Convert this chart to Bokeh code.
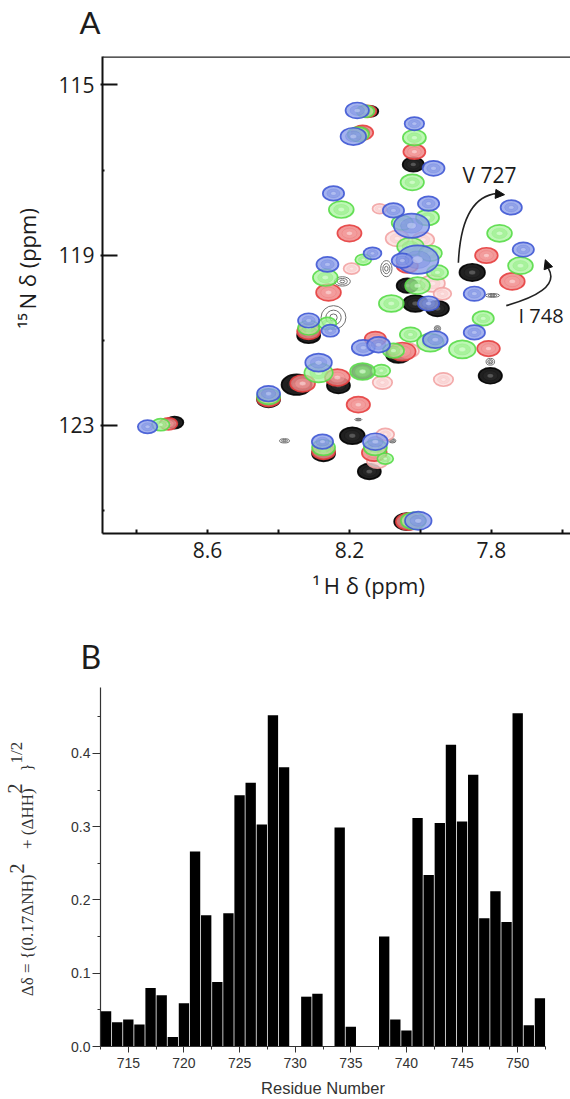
from bokeh.plotting import figure
from bokeh.layouts import column
from bokeh.models import Range1d, FixedTicker, Label, Span, Arrow, NormalHead, Title
from bokeh.embed import file_html
from bokeh.resources import INLINE

# ---------- Panel A: HSQC peaks (1H ppm, 15N ppm, 1H peak width ppm) ----------
BLUE_H = [8.178,8.189,8.017,7.963,8.245,8.076,7.977,8.025,8.008,8.051,8.135,8.262,7.744,7.710,7.848,7.848,7.977,7.958,8.161,8.118,8.127,8.006,8.769,8.428,8.287,8.315,8.276,8.254]
BLUE_N = [115.60,116.21,115.91,116.96,117.55,117.95,117.79,118.31,119.11,119.13,118.96,119.22,117.88,118.87,119.91,120.82,120.14,120.99,121.18,121.11,123.39,125.25,123.04,122.26,121.53,120.54,123.39,120.78]
BLUE_W = [.066,.072,.055,.062,.06,.06,.06,.10,.118,.06,.05,.062,.06,.06,.06,.06,.06,.07,.065,.065,.07,.075,.055,.065,.075,.06,.06,.05]

GREEN_H = [8.155,8.175,8.017,8.023,8.223,7.980,8.051,8.028,7.972,7.952,8.268,8.161,7.777,7.718,7.823,8.082,8.028,7.972,7.882,8.110,8.076,8.163,8.127,8.099,8.020,8.732,8.428,8.287,8.315,8.273,8.262,8.008]
GREEN_N = [115.62,116.16,116.24,117.29,117.93,118.12,118.24,118.80,118.96,119.41,119.53,119.11,118.49,119.25,120.49,120.14,120.87,121.06,121.22,121.72,121.25,121.74,123.53,123.79,125.25,122.99,122.33,121.77,120.71,123.53,120.61,119.72]
GREEN_W = [.05,.06,.065,.066,.07,.065,.06,.075,.065,.06,.07,.045,.07,.07,.06,.07,.06,.075,.075,.05,.06,.07,.065,.045,.07,.05,.065,.08,.06,.065,.05,.07]

RED_H = [8.149,8.017,8.200,8.037,8.259,7.814,7.741,7.808,8.175,8.130,8.034,8.710,8.428,8.332,8.234,8.315,8.273,8.051,8.127,8.163]
RED_N = [115.62,116.57,118.49,119.25,119.88,119.01,119.62,121.20,122.52,123.65,125.27,122.97,122.38,122.02,121.88,120.80,123.62,121.27,120.97,116.12]
RED_W = [.05,.062,.068,.06,.07,.064,.07,.064,.066,.07,.07,.05,.065,.07,.07,.065,.065,.075,.06,.06]

PINK_H = [8.115,8.065,7.992,8.194,7.966,7.938,8.034,7.935,8.107,8.121,8.099]
PINK_N = [117.91,118.61,118.64,119.32,119.67,119.91,121.25,121.93,122.00,123.84,123.22]
PINK_W = [.04,.066,.062,.045,.07,.05,.06,.055,.055,.06,.05]

BLACK_H = [8.141,8.169,8.020,7.854,8.037,8.014,7.952,7.803,8.062,8.163,8.231,8.192,8.144,8.039,8.693,8.428,8.349,8.315,8.273]
BLACK_N = [115.62,116.12,116.87,119.41,119.72,120.14,120.26,121.84,121.34,121.74,122.07,123.25,124.09,125.27,122.94,122.40,122.05,120.89,123.67]
BLACK_W = [.045,.05,.06,.072,.06,.07,.065,.066,.07,.06,.065,.07,.065,.07,.05,.065,.085,.065,.065]

GREY_H = [8.096,8.220,8.245,7.797,7.803,7.952,8.079,8.175,8.383]
GREY_N = [119.32,119.62,120.47,119.95,121.51,120.73,123.37,122.87,123.37]
GREY_W = [.032,.045,.07,.04,.024,.018,.02,.02,.028]
GREY_DN = [.38,.22,.56,.09,.16,.14,.1,.06,.1]

AXIS_A_Y = [115, 119, 123]
MINOR_A_Y = [117, 121, 125]
AXIS_A_X = [8.8, 8.6, 8.4, 8.2, 8.0, 7.8, 7.6]
LABELS_A_X = {8.6: "8.6", 8.2: "8.2", 7.8: "7.8"}

# ---------- Panel B: chemical shift perturbation per residue ----------
RESIDUE = [713,714,715,716,717,718,719,720,721,722,723,724,725,726,727,728,729,731,732,734,735,738,739,740,741,742,743,744,745,746,747,748,749,750,751,752]
DELTA = [.048,.033,.037,.030,.080,.070,.013,.059,.266,.179,.088,.182,.343,.360,.303,.452,.381,.068,.072,.299,.027,.150,.037,.022,.312,.234,.305,.412,.307,.371,.175,.212,.170,.455,.029,.066]
TICKS_B_X = [715, 720, 725, 730, 735, 740, 745, 750]
MINOR_B_X = [712.5, 717.5, 722.5, 727.5, 732.5, 737.5, 742.5, 747.5, 752.5]
TICKS_B_Y = [0.0, 0.1, 0.2, 0.3, 0.4]
MINOR_B_Y = [0.05, 0.15, 0.25, 0.35, 0.45]

SANS = "Open Sans"
TXT = "#1c1c1c"
SERIF = "Liberation Serif"
GREY_T = "#333333"

# -------- Panel A --------
p1 = figure(width=570, height=612, output_backend="svg", toolbar_location=None,
            x_range=Range1d(8.896, 7.577), y_range=Range1d(125.55, 114.33),
            min_border_left=102, min_border_right=0, min_border_top=56, min_border_bottom=79,
            background_fill_color="white", border_fill_color="white", frame_align=False)
p1.grid.visible = False
p1.outline_line_color = None

ax = p1.xaxis[0]
ax.ticker = FixedTicker(ticks=AXIS_A_X)
ax.major_label_overrides = {t: LABELS_A_X.get(t, "") for t in AXIS_A_X}
ax.major_tick_in, ax.major_tick_out = 4, 0
ax.minor_tick_line_color = None
ax.axis_line_width = 2
ax.major_tick_line_width = 2
ax.axis_line_color = ax.major_tick_line_color = "#111111"
ax.major_label_text_font = SANS
ax.major_label_text_font_size = "21px"
ax.major_label_text_color = TXT
ax.major_label_standoff = 8

ay = p1.yaxis[0]
ay.ticker = FixedTicker(ticks=AXIS_A_Y, minor_ticks=MINOR_A_Y)
ay.major_tick_in, ay.major_tick_out = 15, 2
ay.minor_tick_in, ay.minor_tick_out = 2, 0
ay.axis_line_width = 2
ay.major_tick_line_width = 2
ay.minor_tick_line_width = 2
ay.axis_line_color = ay.major_tick_line_color = ay.minor_tick_line_color = "#111111"
ay.major_label_text_font = SANS
ay.major_label_text_font_size = "21px"
ay.major_label_text_color = TXT
ay.major_label_standoff = 6
ay.major_label_orientation = "horizontal"

p1.add_layout(Span(location=114.33, dimension="width", line_color="#222222", line_width=2.5))

ASPECT = 5.68  # N-ppm of peak height per H-ppm of peak width


def peaks(H, N, W, edge, fill, mid, core, alpha=0.82):
    heights = [w * ASPECT for w in W]
    for scale, col, a in [(1.0, fill, alpha), (0.62, mid, alpha * 0.6), (0.26, core, 0.6)]:
        p1.ellipse(H, N, [w * scale for w in W], [h * scale for h in heights],
                   fill_color=col, fill_alpha=a,
                   line_color=edge, line_width=1.7 if scale == 1.0 else 0.5,
                   line_alpha=0.9 if scale == 1.0 else 0.3)


# grey open contours
for s in (1.0, 0.62, 0.3):
    p1.ellipse(GREY_H, GREY_N, [w * s for w in GREY_W], [h * s for h in GREY_DN],
               fill_color="white", fill_alpha=0.25, line_color="#707070", line_width=1)

peaks(BLACK_H, BLACK_N, BLACK_W, "#000000", "#141414", "#2a2a2a", "#7a7a7a", alpha=0.95)
peaks(PINK_H, PINK_N, PINK_W, "#f2a3a3", "#fbdcdc", "#f9c9c9", "#fff0f0", alpha=0.8)
peaks(RED_H, RED_N, RED_W, "#e53f3f", "#f08888", "#f4a0a0", "#fde0e0", alpha=0.85)
peaks(GREEN_H, GREEN_N, GREEN_W, "#58dc48", "#a6f49a", "#8bec7c", "#e4ffe0", alpha=0.72)
peaks(BLUE_H, BLUE_N, BLUE_W, "#3f58d4", "#8c9ee9", "#7a8fe2", "#c4cff5", alpha=0.78)

# arrows
p1.bezier(x0=[7.893], y0=[119.18], x1=[7.783], y1=[117.55], cx0=[7.887], cy0=[118.07],
          cx1=[7.845], cy1=[117.60], line_color="#222222", line_width=1.6)
p1.bezier(x0=[7.758], y0=[120.19], x1=[7.639], y1=[119.32], cx0=[7.676], cy0=[120.0],
          cx1=[7.611], cy1=[119.72], line_color="#222222", line_width=1.6)
p1.add_layout(Arrow(end=NormalHead(size=9, fill_color="#111111", line_color="#111111"),
                    x_start=7.791, y_start=117.56, x_end=7.763, y_end=117.58,
                    line_color="#222222", line_width=1.6))
p1.add_layout(Arrow(end=NormalHead(size=9, fill_color="#111111", line_color="#111111"),
                    x_start=7.639, y_start=119.32, x_end=7.648, y_end=119.11,
                    line_color="#222222", line_width=1.6))

for text, px, py, size in [("V 727", 462, 174, 21), ("I 748", 518, 315, 20)]:
    p1.add_layout(Label(x=px, y=py, x_units="canvas", y_units="canvas", text=text, text_font=SANS,
                        text_font_size=f"{size}px", text_color=TXT,
                        text_baseline="alphabetic", text_align="left"))

p1.add_layout(Title(text=" ", text_font_size="1px", standoff=13), "above")
p1.add_layout(Title(text="A", text_font="Lato", text_font_size="31px", text_font_style="normal",
                    text_color=TXT, align="left", offset=-23, standoff=0), "above")
p1.add_layout(Title(text=" ", text_font_size="1px", standoff=4), "below")
p1.add_layout(Title(text="¹\u2009H δ (ppm)", text_font=SANS, text_font_size="22px", text_font_style="normal",
                    text_color=TXT, align="left", offset=210, standoff=0), "below")
p1.add_layout(Title(text=" ", text_font_size="1px", standoff=11), "left")
p1.add_layout(Title(text="¹⁵\u2009N δ (ppm)", text_font=SANS, text_font_size="22px", text_font_style="normal",
                    text_color=TXT, align="left", offset=205, standoff=0), "left")

# -------- Panel B --------
p2 = figure(width=570, height=487, output_backend="svg", toolbar_location=None,
            x_range=Range1d(712.5, 752.5), y_range=Range1d(0, 0.49),
            min_border_left=100, min_border_right=25, min_border_top=75, min_border_bottom=53,
            background_fill_color="white", border_fill_color="white", frame_align=False)
p2.grid.visible = False
p2.outline_line_color = None
p2.vbar(x=RESIDUE, top=DELTA, bottom=0, width=0.93, fill_color="#000000", line_color=None)

bx = p2.xaxis[0]
bx.ticker = FixedTicker(ticks=TICKS_B_X, minor_ticks=MINOR_B_X)
by = p2.yaxis[0]
by.ticker = FixedTicker(ticks=TICKS_B_Y, minor_ticks=MINOR_B_Y)
by.major_label_overrides = {t: f"{t:.1f}" for t in TICKS_B_Y}
bx.major_tick_in, bx.major_tick_out = 0, 6
bx.minor_tick_in, bx.minor_tick_out = 0, 3
by.major_tick_in, by.major_tick_out = 0, 8
by.minor_tick_in, by.minor_tick_out = 0, 3
for a in (bx, by):
    a.axis_line_color = a.major_tick_line_color = a.minor_tick_line_color = "#333333"
    a.axis_line_width = 1.2
    a.major_label_text_font = "Liberation Sans"
    a.major_label_text_font_size = "14px"
    a.major_label_text_color = "#333333"
by.major_label_standoff = 2
bx.major_label_standoff = 5
by.major_label_orientation = "horizontal"

bx.axis_label = "Residue Number"
bx.axis_label_text_font = "Liberation Sans"
bx.axis_label_text_font_size = "16.5px"
bx.axis_label_text_font_style = "normal"
bx.axis_label_text_color = GREY_T
bx.axis_label_standoff = 8

by.axis_label = "Δδ = {(0.17ΔNH)\u2003\u2002+ (ΔHH)\u2003}\u2003\u2002"
by.axis_label_text_font = SERIF
by.axis_label_text_font_size = "17px"
by.axis_label_text_font_style = "normal"
by.axis_label_text_color = GREY_T
by.axis_label_standoff = 31

p2.add_layout(Title(text="B", text_font="Lato", text_font_size="32px", text_font_style="normal",
                    text_color=TXT, align="left", offset=-20, standoff=24), "above")
for text, size, off, s in [("2", 20, 173, -17), ("2", 20, 253, -13), ("1/2", 17, 283, -27)]:
    p2.add_layout(Title(text=text, text_font=SERIF, text_font_size=f"{size}px", text_font_style="normal",
                        text_color=GREY_T, align="left", offset=off, standoff=s), "left")

open("out.html", "w").write(file_html(column(p1, p2, spacing=0), INLINE))
